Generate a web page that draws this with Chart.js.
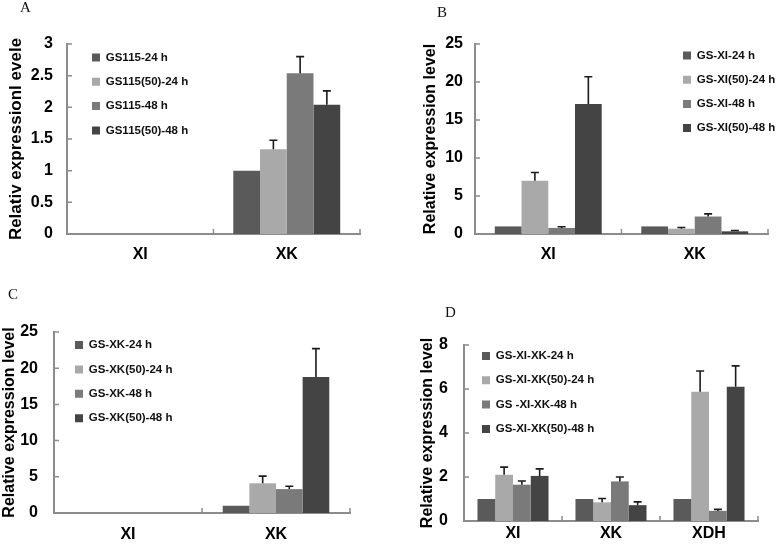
<!DOCTYPE html>
<html>
<head>
<meta charset="utf-8">
<script src="https://cdn.jsdelivr.net/npm/chart.js@4.4.1/dist/chart.umd.min.js"></script>
<style>
  html, body { margin: 0; padding: 0; background: #fff; }
  #page { position: relative; width: 776px; height: 548px; overflow: hidden; }
  canvas { position: absolute; }
  .tag { position: absolute; font: 15px "Liberation Serif", "Times New Roman", serif; line-height: 15px; color: #111; }
</style>
</head>
<body>
<div id="page">
  <canvas id="chartA" width="388" height="270" style="left:0;top:0"></canvas>
  <canvas id="chartB" width="388" height="270" style="left:388px;top:0"></canvas>
  <canvas id="chartC" width="388" height="278" style="left:0;top:270px"></canvas>
  <canvas id="chartD" width="388" height="278" style="left:388px;top:270px"></canvas>
  <div class="tag" style="left:20px;top:0px">A</div>
  <div class="tag" style="left:437px;top:5px">B</div>
  <div class="tag" style="left:8px;top:287px">C</div>
  <div class="tag" style="left:445px;top:305px">D</div>
</div>
<script>
// ---- data ----
const genesTwo = ['XI', 'XK'];
const genesThree = ['XI', 'XK', 'XDH'];

// A: GS115
const namesA = ['GS115-24 h', 'GS115(50)-24 h', 'GS115-48 h', 'GS115(50)-48 h'];
const a24 = [null, 1.0];
const a24err = [null, 0];
const a50_24 = [null, 1.34];
const a50_24err = [null, 0.14];
const a48 = [null, 2.54];
const a48err = [null, 0.26];
const a50_48 = [null, 2.04];
const a50_48err = [null, 0.22];

// B: GS-XI
const namesB = ['GS-XI-24 h', 'GS-XI(50)-24 h', 'GS-XI-48 h', 'GS-XI(50)-48 h'];
const b24 = [1.0, 1.0];
const b24err = [0, 0];
const b50_24 = [7.0, 0.7];
const b50_24err = [1.1, 0.15];
const b48 = [0.8, 2.3];
const b48err = [0.15, 0.35];
const b50_48 = [17.1, 0.35];
const b50_48err = [3.6, 0.12];

// C: GS-XK
const namesC = ['GS-XK-24 h', 'GS-XK(50)-24 h', 'GS-XK-48 h', 'GS-XK(50)-48 h'];
const c24 = [null, 1.0];
const c24err = [null, 0];
const c50_24 = [null, 4.1];
const c50_24err = [null, 1.0];
const c48 = [null, 3.3];
const c48err = [null, 0.4];
const c50_48 = [null, 18.8];
const c50_48err = [null, 3.9];

// D: GS-XI-XK
const namesD = ['GS-XI-XK-24 h', 'GS-XI-XK(50)-24 h', 'GS -XI-XK-48 h', 'GS-XI-XK(50)-48 h'];
const d24 = [1.0, 1.0, 1.0];
const d24err = [0, 0, 0];
const d50_24 = [2.1, 0.85, 5.87];
const d50_24err = [0.35, 0.17, 0.95];
const d48 = [1.65, 1.8, 0.46];
const d48err = [0.17, 0.2, 0.07];
const d50_48 = [2.05, 0.72, 6.1];
const d50_48err = [0.32, 0.15, 0.95];

// ---- styles ----
const barColors = ['#5a5a5a', '#a9a9a9', '#7a7a7a', '#444444'];
const axisGray = '#8c8c8c';
const fam = '"Liberation Sans", Arial, Helvetica, sans-serif';
Chart.defaults.font.family = fam;

// draws the small inward ticks of the axes
const innerTicks = {
  id: 'innerTicks',
  afterDraw(chart) {
    const {ctx, chartArea: a, scales: {x, y}} = chart;
    ctx.save();
    ctx.strokeStyle = axisGray;
    ctx.lineWidth = 1.5;
    ctx.beginPath();
    y.ticks.forEach(t => {
      const py = y.getPixelForValue(t.value);
      ctx.moveTo(a.left, py);
      ctx.lineTo(a.left + 5, py);
    });
    for (let i = 1; i <= x.ticks.length; i++) {
      const px = x.getPixelForValue(i - 0.5);
      ctx.moveTo(px, a.bottom);
      ctx.lineTo(px, a.bottom - 5);
    }
    ctx.stroke();
    ctx.restore();
  }
};

// upward error bars with caps
const errorBars = {
  id: 'errorBars',
  afterDatasetsDraw(chart) {
    const {ctx, scales: {y}} = chart;
    ctx.save();
    ctx.strokeStyle = '#1c1c1c';
    ctx.lineWidth = 1.6;
    chart.data.datasets.forEach((ds, i) => {
      if (!ds.errors) return;
      const meta = chart.getDatasetMeta(i);
      meta.data.forEach((bar, j) => {
        const v = ds.data[j];
        const e = ds.errors[j];
        if (v == null || !e) return;
        const top = y.getPixelForValue(v + e);
        ctx.beginPath();
        ctx.moveTo(bar.x, bar.y);
        ctx.lineTo(bar.x, top);
        ctx.moveTo(bar.x - 4, top);
        ctx.lineTo(bar.x + 4, top);
        ctx.stroke();
      });
    });
    ctx.restore();
  }
};

// moves the legend box to a fixed spot inside the plot
const legendSpot = {
  id: 'legendSpot',
  afterLayout(chart, args, opts) {
    const lg = chart.legend;
    if (!lg) return;
    const pad = lg.options.labels.padding;
    const fs = lg.options.labels.font.size;
    lg.left = opts.x - pad;
    lg.top = opts.y - fs / 2 - pad;
    lg.width = 400;
    lg.height = 400;
    lg.right = lg.left + 400;
    lg.bottom = lg.top + 400;
  }
};

function makePanel(id, p) {
  const series = p.values.map((vals, i) => ({
    label: p.names[i],
    data: vals,
    errors: p.errors[i],
    backgroundColor: barColors[i],
    borderWidth: 0,
    barPercentage: 1,
    categoryPercentage: p.catPct
  }));
  const legendFont = 11.5;
  return new Chart(document.getElementById(id), {
    type: 'bar',
    data: { labels: p.groups, datasets: series },
    plugins: [innerTicks, errorBars, legendSpot],
    options: {
      responsive: false,
      animation: false,
      layout: { padding: p.pad },
      plugins: {
        tooltip: { enabled: false },
        legend: {
          position: 'chartArea',
          align: 'start',
          labels: {
            boxWidth: 8,
            boxHeight: 8,
            padding: p.legend.gap - legendFont,
            color: '#111',
            font: { size: legendFont, weight: 'bold', family: fam }
          }
        },
        legendSpot: { x: p.legend.x, y: p.legend.y }
      },
      scales: {
        x: {
          grid: { display: false, drawTicks: false },
          border: { color: axisGray, width: 2 },
          ticks: { padding: p.xTickPad, color: '#000', font: { size: 16, weight: 'bold' } },
          afterFit(scale) { scale.height = p.xHeight; }
        },
        y: {
          min: 0,
          max: p.ymax,
          grid: { display: false, drawTicks: false },
          border: { color: axisGray, width: 2 },
          ticks: {
            stepSize: p.step,
            padding: p.yTickPad,
            color: '#000',
            font: { size: 16, weight: 'bold' },
            callback: v => String(+v)
          },
          title: {
            display: true,
            text: p.title,
            color: '#000',
            font: { size: p.titleSize, weight: 'bold' },
            padding: { top: p.titlePad, bottom: 0 }
          },
          afterFit(scale) { scale.width = p.yWidth; }
        }
      }
    }
  });
}

makePanel('chartA', {
  groups: genesTwo, names: namesA,
  values: [a24, a50_24, a48, a50_48],
  errors: [a24err, a50_24err, a48err, a50_48err],
  ymax: 3, step: 0.5, title: 'Relativ expressionl evele', titlePad: 6, titleSize: 17,
  pad: { left: 0, top: 44, right: 28, bottom: 0 },
  yWidth: 67, xHeight: 36, yTickPad: 14, xTickPad: 11, catPct: 0.73,
  legend: { x: 92, y: 57.5, gap: 24.3 }
});

makePanel('chartB', {
  groups: genesTwo, names: namesB,
  values: [b24, b50_24, b48, b50_48],
  errors: [b24err, b50_24err, b48err, b50_48err],
  ymax: 25, step: 5, title: 'Relative expression level', titlePad: 9, titleSize: 16,
  pad: { left: 24, top: 44, right: 8, bottom: 0 },
  yWidth: 63, xHeight: 36, yTickPad: 12, xTickPad: 11, catPct: 0.73,
  legend: { x: 295, y: 55.5, gap: 24.2 }
});

makePanel('chartC', {
  groups: genesTwo, names: namesC,
  values: [c24, c50_24, c48, c50_48],
  errors: [c24err, c50_24err, c48err, c50_48err],
  ymax: 25, step: 5, title: 'Relative expression level', titlePad: 0, titleSize: 16,
  pad: { left: 0, top: 62, right: 38, bottom: 0 },
  yWidth: 54, xHeight: 35, yTickPad: 16, xTickPad: 12, catPct: 0.72,
  legend: { x: 75, y: 75, gap: 24.4 }
});

makePanel('chartD', {
  groups: genesThree, names: namesD,
  values: [d24, d50_24, d48, d50_48],
  errors: [d24err, d50_24err, d48err, d50_48err],
  ymax: 8, step: 2, title: 'Relative expression level', titlePad: 6, titleSize: 16,
  pad: { left: 24, top: 75, right: 18, bottom: 0 },
  yWidth: 52, xHeight: 27, yTickPad: 16, xTickPad: 2.5, catPct: 0.725,
  legend: { x: 94, y: 86, gap: 24.3 }
});
</script>
</body>
</html>
